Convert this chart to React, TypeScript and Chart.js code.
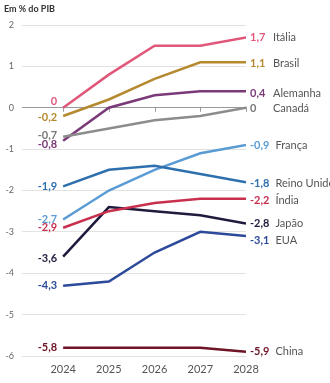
import React, { useEffect, useRef } from "react";
import { Chart, registerables } from "chart.js";

Chart.register(...registerables);

const years = [2024, 2025, 2026, 2027, 2028];
const yTicks = [2, 1, 0, -1, -2, -3, -4, -5, -6];

const italia = [0, 0.8, 1.5, 1.5, 1.7];
const brasil = [-0.2, 0.2, 0.7, 1.1, 1.1];
const alemanha = [-0.8, 0.0, 0.3, 0.4, 0.4];
const canada = [-0.7, -0.5, -0.3, -0.2, 0];
const franca = [-2.7, -2.0, -1.5, -1.1, -0.9];
const reinoUnido = [-1.9, -1.5, -1.4, -1.6, -1.8];
const india = [-2.9, -2.5, -2.3, -2.2, -2.2];
const japao = [-3.6, -2.4, -2.5, -2.6, -2.8];
const eua = [-4.3, -4.2, -3.5, -3.0, -3.1];
const china = [-5.8, -5.8, -5.8, -5.8, -5.9];

const series = [
  { name: "Canadá", values: canada, color: "#8c8c8c", labelColor: "#777777", dyL: -1, dyR: 1 },
  { name: "China", values: china, color: "#6e1426", labelColor: "#6e1426", dyL: 0, dyR: 0 },
  { name: "EUA", values: eua, color: "#2c4a99", labelColor: "#2c4a99", dyL: 0, dyR: 4 },
  { name: "Índia", values: india, color: "#c8304d", labelColor: "#c8304d", dyL: 0, dyR: 2 },
  { name: "Japão", values: japao, color: "#1f1b3d", labelColor: "#1f1b3d", dyL: 2, dyR: 0 },
  { name: "Reino Unido", values: reinoUnido, color: "#2e6fae", labelColor: "#2e6fae", dyL: 0, dyR: 1 },
  { name: "França", values: franca, color: "#5a9bd5", labelColor: "#5a9bd5", dyL: 0, dyR: 0 },
  { name: "Alemanha", values: alemanha, color: "#7a3a78", labelColor: "#7a3a78", dyL: 4, dyR: 2 },
  { name: "Brasil", values: brasil, color: "#b5892f", labelColor: "#b5892f", dyL: 1, dyR: 1 },
  { name: "Itália", values: italia, color: "#e0577a", labelColor: "#e0577a", dyL: -6, dyR: 0 },
];

const fmt = (v: number) => (v === 0 ? "0" : v.toFixed(1).replace(".", ","));

const labelPlugin = {
  id: "labels",
  afterDatasetsDraw(chart: any) {
    const ctx = chart.ctx;
    ctx.save();
    ctx.fillStyle = "#333";
    ctx.font = "bold 9px Lato";
    ctx.textAlign = "left";
    ctx.textBaseline = "middle";
    ctx.fillText("Em % do PIB", 4, 9);
    series.forEach((s, i) => {
      const meta = chart.getDatasetMeta(i);
      const first = meta.data[0];
      const last = meta.data[meta.data.length - 1];
      const v0 = s.values[0];
      const vN = s.values[s.values.length - 1];
      ctx.font = "bold 11px Lato";
      ctx.fillStyle = s.labelColor;
      ctx.textAlign = "right";
      ctx.fillText(fmt(v0), first.x - 6, first.y + s.dyL);
      ctx.textAlign = "left";
      const t = fmt(vN);
      const tx = last.x + 4;
      ctx.fillText(t, tx, last.y + s.dyR);
      const w = ctx.measureText(t).width;
      ctx.font = "11px Lato";
      ctx.fillStyle = "#555";
      ctx.fillText(s.name, Math.max(tx + w + 6, last.x + 27), last.y + s.dyR);
    });
    ctx.restore();
  },
  beforeDatasetsDraw(chart: any) {
    const ctx = chart.ctx;
    const xs = chart.scales.x;
    const ys = chart.scales.y;
    const y0 = ys.getPixelForValue(0);
    ctx.save();
    ctx.strokeStyle = "#9a9a9a";
    ctx.lineWidth = 1;
    years.forEach((yr) => {
      const x = Math.round(xs.getPixelForValue(yr)) + 0.5;
      ctx.beginPath();
      ctx.moveTo(x, y0 - 1);
      ctx.lineTo(x, y0 + 4);
      ctx.stroke();
    });
    ctx.restore();
  },
};

export default function App() {
  const ref = useRef<HTMLCanvasElement | null>(null);
  useEffect(() => {
    if (!ref.current) return;
    const chart = new Chart(ref.current, {
      type: "line",
      data: {
        datasets: series.map((s) => ({
          label: s.name,
          data: s.values.map((v, i) => ({ x: years[i], y: v })),
          borderColor: s.color,
          backgroundColor: s.color,
          borderWidth: 2.5,
          pointRadius: 0,
          tension: 0,
        })),
      },
      options: {
        animation: false,
        responsive: false,
        layout: { padding: { top: 25, right: 84, left: 0, bottom: 0 } },
        plugins: { legend: { display: false }, tooltip: { enabled: false }, title: { display: false } },
        scales: {
          x: {
            type: "linear",
            min: 2023.1,
            max: 2028,
            afterBuildTicks: (scale: any) => {
              scale.ticks = years.map((v) => ({ value: v }));
            },
            afterFit: (scale: any) => {
              scale.height = 27;
            },
            grid: { display: false, drawTicks: false },
            border: { display: false },
            ticks: {
              callback: (v: any) => String(v),
              color: "#555",
              font: { family: "Lato", size: 11 },
              padding: 7,
              maxRotation: 0,
              autoSkip: false,
            },
          },
          y: {
            min: -6,
            max: 2,
            afterBuildTicks: (scale: any) => {
              scale.ticks = yTicks.map((v) => ({ value: v }));
            },
            afterFit: (scale: any) => {
              scale.width = 22;
            },
            grid: {
              drawTicks: false,
              color: (c: any) => (c.tick && c.tick.value === 0 ? "#9a9a9a" : "#e2e2e2"),
              lineWidth: 1,
            },
            border: { display: false },
            ticks: {
              color: "#666",
              font: { family: "Lato", size: 9 },
              padding: 8,
            },
          },
        },
      },
      plugins: [labelPlugin],
    });
    return () => chart.destroy();
  }, []);
  return (
    <div style={{ position: "fixed", left: 0, top: 0, width: 330, height: 383, background: "#fff" }}>
      <canvas ref={ref} width={330} height={383} />
    </div>
  );
}
